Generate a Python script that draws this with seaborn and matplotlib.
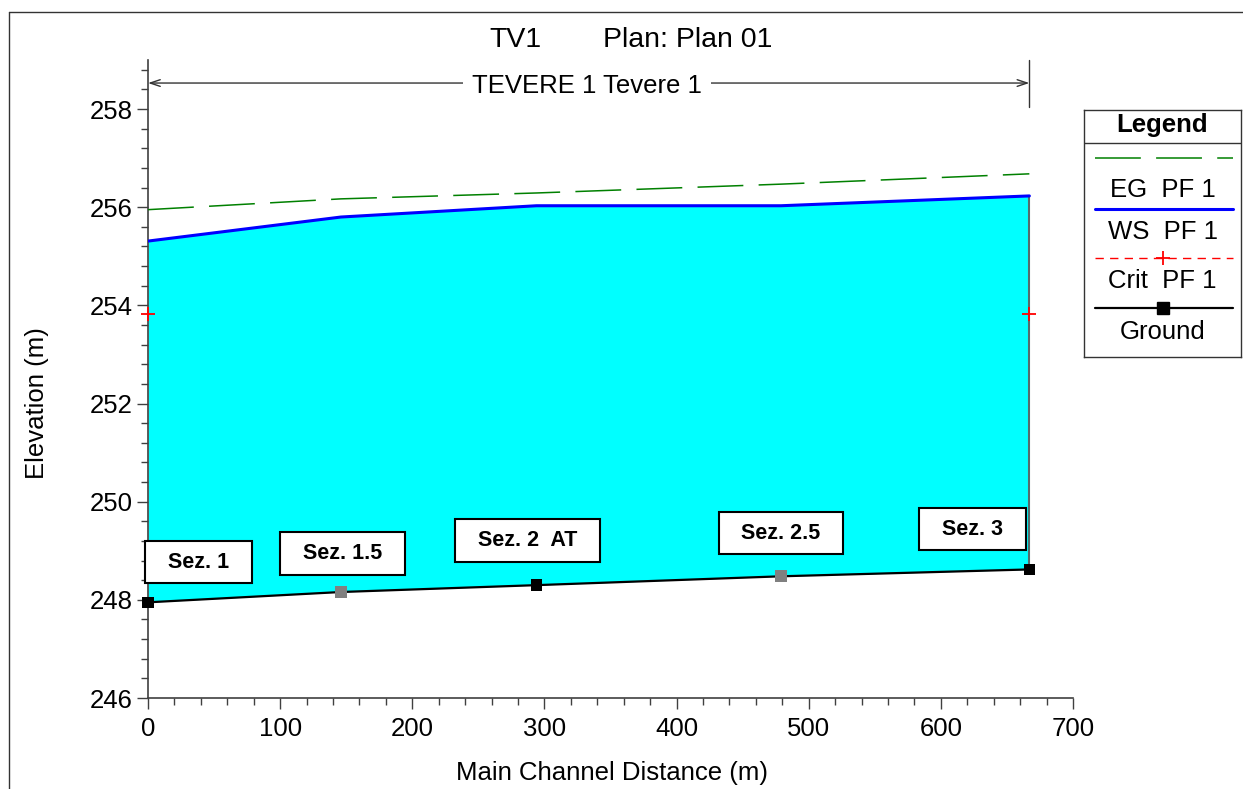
import numpy as np
import seaborn as sns
import matplotlib.pyplot as plt
from matplotlib.lines import Line2D
from matplotlib.ticker import MultipleLocator

sns.set_theme(style="ticks")
plt.rcParams["font.family"] = ["Liberation Sans", "DejaVu Sans"]
plt.rcParams["text.color"] = "black"
plt.rcParams["xtick.labelcolor"] = "black"
plt.rcParams["ytick.labelcolor"] = "black"

# Profile data
stations = ["Sez. 1", "Sez. 1.5", "Sez. 2  AT", "Sez. 2.5", "Sez. 3"]
distance = [0, 146, 294, 479, 667]
ground = [247.95, 248.16, 248.30, 248.48, 248.62]
ws_pf1 = [255.31, 255.80, 256.03, 256.03, 256.23]
eg_pf1 = [255.95, 256.17, 256.29, 256.47, 256.68]
crit_x = [0, 667]
crit_pf1 = [253.83, 253.83]
interpolated = [False, True, False, True, False]

# Label anchor points (distance, elevation)
label_x = [38, 147, 287, 479, 624]
label_y = [248.77, 248.95, 249.21, 249.36, 249.44]

fig = plt.figure(figsize=(12.43, 7.89), dpi=100)
ax = fig.add_axes([0.1191, 0.1153, 0.7441, 0.8087])

ax.fill_between(distance, ground, ws_pf1, color="#00FFFF", lw=0, zorder=1)
ax.plot([distance[-1], distance[-1]], [ground[-1], ws_pf1[-1]],
        color="#556B6B", lw=1.5, zorder=2)

sns.lineplot(x=distance, y=eg_pf1, ax=ax, color="#008000", lw=1.1,
             zorder=3).lines[-1].set_dashes((30, 10))
sns.lineplot(x=distance, y=ws_pf1, ax=ax, color="#0000FF", lw=2.2, zorder=3)
sns.lineplot(x=distance, y=ground, ax=ax, color="black", lw=1.6, zorder=4)

mk_colors = ["#808080" if f else "black" for f in interpolated]
ax.scatter(distance, ground, marker="s", s=70, c=mk_colors, zorder=5,
           linewidths=0, clip_on=False)
ax.scatter(crit_x, crit_pf1, marker="+", s=110, c="red", linewidths=1.3,
           zorder=5, clip_on=False)

for name, lx, ly in zip(stations, label_x, label_y):
    ax.text(lx, ly, "  " + name + "  ", ha="center", va="center",
            fontsize=15.5, fontweight="bold", zorder=6,
            bbox=dict(boxstyle="square,pad=0.5", fc="white", ec="black", lw=1.5))

# Reach annotation
reach_y = 258.53
ax.annotate("", xy=(0, reach_y), xytext=(distance[-1], reach_y),
            arrowprops=dict(arrowstyle="<->,head_length=0.6,head_width=0.2",
                            color="#333333", lw=1, shrinkA=0, shrinkB=0))
ax.plot([distance[-1], distance[-1]], [258.05, 259], color="#333333", lw=1,
        clip_on=False)
ax.text(332, reach_y - 0.06, "TEVERE 1 Tevere 1", ha="center", va="center",
        fontsize=18.5, bbox=dict(boxstyle="square,pad=0.35", fc="white", ec="none"))

ax.set_xlim(0, 700)
ax.set_ylim(246, 259)
ax.set_xticks(np.arange(0, 701, 100))
ax.set_yticks(np.arange(246, 259, 2))
ax.xaxis.set_minor_locator(MultipleLocator(20))
ax.yaxis.set_minor_locator(MultipleLocator(0.4))
ax.tick_params(which="major", length=8, width=1, color="#404040",
               labelsize=18.5, pad=3)
ax.tick_params(axis="x", which="major", pad=6)
ax.tick_params(which="minor", length=5, width=1, color="#404040")
for s in ["top", "right"]:
    ax.spines[s].set_visible(False)
for s in ["left", "bottom"]:
    ax.spines[s].set_color("#404040")
    ax.spines[s].set_linewidth(1.2)
ax.set_facecolor("white")

fig.text(37 / 1243, 1 - 403 / 789, "Elevation (m)", rotation=90,
         ha="center", va="center", fontsize=18.5)
fig.text(612 / 1243, 1 - 773 / 789, "Main Channel Distance (m)",
         ha="center", va="center", fontsize=18.5)
fig.text(489 / 1243, 1 - 40 / 789, "TV1", ha="left", va="center", fontsize=20.5)
fig.text(603 / 1243, 1 - 40 / 789, "Plan: Plan 01", ha="left", va="center",
         fontsize=20.5)

# Outer frame (left and top edges visible)
fig.add_artist(Line2D([9 / 1243, 9 / 1243], [0, 1 - 12 / 789],
                      transform=fig.transFigure, color="#333333", lw=1))
fig.add_artist(Line2D([9 / 1243, 1], [1 - 12 / 789, 1 - 12 / 789],
                      transform=fig.transFigure, color="#333333", lw=1))

# Custom legend box
lg = fig.add_axes([1084 / 1243, 1 - 357 / 789, 157 / 1243, 247 / 789])
lg.set_xlim(0, 1)
lg.set_ylim(0, 1)
lg.set_xticks([])
lg.set_yticks([])
for s in lg.spines.values():
    s.set_color("#333333")
    s.set_linewidth(1)
lg.text(0.5, 0.939, "Legend", ha="center", va="center", fontsize=18.5,
        fontweight="bold")
lg.axhline(0.866, color="#333333", lw=1)
lx = [0.07, 0.95]
lg.plot(lx, [0.806] * 2, color="#008000", lw=1.1, dashes=(30, 10))
lg.text(0.5, 0.676, "EG  PF 1", ha="center", va="center", fontsize=18.5)
lg.plot(lx, [0.599] * 2, color="#0000FF", lw=2.2)
lg.text(0.5, 0.506, "WS  PF 1", ha="center", va="center", fontsize=18.5)
lg.plot(lx, [0.401] * 2, color="red", lw=1, dashes=(6, 4.5))
lg.plot([0.5], [0.401], marker="+", color="red", ms=10, mew=1.3)
lg.text(0.5, 0.308, "Crit  PF 1", ha="center", va="center", fontsize=18.5)
lg.plot(lx, [0.198] * 2, color="black", lw=1.6)
lg.plot([0.5], [0.198], marker="s", color="black", ms=8)
lg.text(0.5, 0.101, "Ground", ha="center", va="center", fontsize=18.5)

fig.savefig("out.png", dpi=100, facecolor="white")
